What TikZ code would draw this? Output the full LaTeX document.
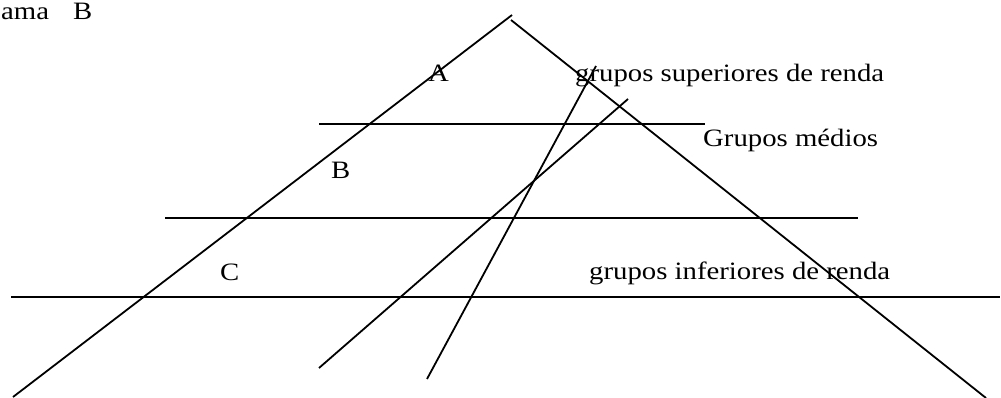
\documentclass[tikz,border=0pt]{standalone}
\usepackage{fontspec}
\setmainfont[FakeStretch=1.15]{Liberation Serif}
\begin{document}
\begin{tikzpicture}[x=1pt,y=-1pt,
  lbl/.style={anchor=base west,inner sep=0pt,font=\fontsize{25}{28}\selectfont},
  ln/.style={line width=1.8pt,black}]
\useasboundingbox (0,0) rectangle (1001,398);
% coordinates
\coordinate (lb) at (13,397);
\coordinate (lt) at (512,15);
\coordinate (rt) at (511,20);
\coordinate (rb) at (986,398);
\coordinate (h1a) at (319,124);
\coordinate (h1b) at (705,124);
\coordinate (h2a) at (165,218);
\coordinate (h2b) at (858,218);
\coordinate (h3a) at (11,297);
\coordinate (h3b) at (1000,297);
\coordinate (d1a) at (319,368);
\coordinate (d1b) at (628,99);
\coordinate (d2a) at (427,379);
\coordinate (d2b) at (596,66);
% lines
\draw[ln] (lb) -- (lt);
\draw[ln] (rt) -- (rb);
\draw[ln] (h1a) -- (h1b);
\draw[ln] (h2a) -- (h2b);
\draw[ln] (h3a) -- (h3b);
\draw[ln] (d1a) -- (d1b);
\draw[ln] (d2a) -- (d2b);
% labels
\node[lbl] (t0) at (1,19.5) {ama};
\node[lbl] (t0b) at (73,19.5) {B};
\node[lbl] (tA) at (428,82) {A};
\node[lbl] (tsup) at (575,82) {grupos superiores de renda};
\node[lbl] (tmed) at (703,147) {Grupos médios};
\node[lbl] (tB) at (331,179) {B};
\node[lbl] (tC) at (220,280) {C};
\node[lbl] (tinf) at (589,279) {grupos inferiores de renda};
\end{tikzpicture}
\end{document}
